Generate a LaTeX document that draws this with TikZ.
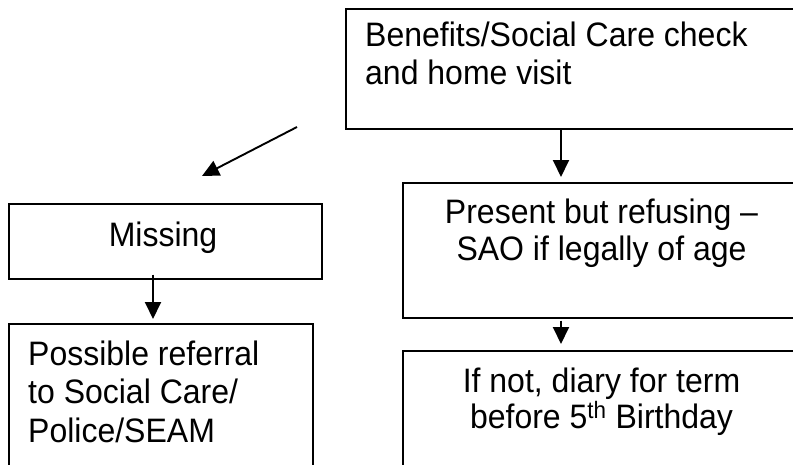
\documentclass[tikz,border=0pt]{standalone}
\usepackage{fontspec}
\setmainfont{Liberation Sans}
\usetikzlibrary{arrows.meta}
\newcommand\talltext[1]{\scalebox{1}[1.06]{#1}}
\begin{document}
\begin{tikzpicture}[x=1pt,y=-1pt,
  box/.style={draw, line width=1.6pt, rectangle, anchor=north west, inner sep=0pt},
  txt/.style={font=\fontsize{32pt}{37pt}\selectfont, inner sep=0pt},
  arr/.style={line width=1.9pt, -{Triangle[length=17pt,width=16pt]}}]
\useasboundingbox (0,0) rectangle (793,464);
\clip (0,0) rectangle (793,464);
% boxes
\node[box, minimum width=470pt, minimum height=120pt] (top) at (345,8) {};
\node[box, minimum width=313pt, minimum height=75pt] (miss) at (8,203) {};
\node[box, minimum width=304pt, minimum height=170pt] (poss) at (8,323) {};
\node[box, minimum width=410pt, minimum height=135pt] (pres) at (402,182) {};
\node[box, minimum width=410pt, minimum height=140pt] (ifnot) at (402,350) {};
% texts
\node[txt, anchor=base west] (t1a) at (365,46) {\talltext{Benefits/Social Care check}};
\node[txt, anchor=base west] (t1b) at (365,84.5) {\talltext{and home visit}};
\node[txt, anchor=base] (t2) at (163,246.5) {\talltext{Missing}};
\node[txt, anchor=base west] (t3a) at (28,365.5) {\talltext{Possible referral}};
\node[txt, anchor=base west] (t3b) at (28,403.5) {\talltext{to Social Care/}};
\node[txt, anchor=base west] (t3c) at (28,442) {\talltext{Police/SEAM}};
\node[txt, anchor=base] (t4a) at (601.5,223.5) {\talltext{Present but refusing –}};
\node[txt, anchor=base] (t4b) at (601.5,260.5) {\talltext{SAO if legally of age}};
\node[txt, anchor=base] (t5a) at (601.5,392) {\talltext{If not, diary for term}};
\node[txt, anchor=base] (t5b) at (601.5,428.5) {\talltext{before 5\textsuperscript{th} Birthday}};
% connectors
\coordinate (cx) at (561,0);
\coordinate (cm) at (153,0);
\coordinate (da) at (297,127);
\coordinate (db) at (202,176);
\draw[arr, shorten >=5pt] (top.south -| cx) -- (pres.north -| cx);
\draw[arr, shorten >=6pt, shorten <=2pt] (pres.south -| cx) -- (ifnot.north -| cx);
\draw[arr, shorten >=4pt, shorten <=-5pt] (miss.south -| cm) -- (poss.north -| cm);
\draw[arr] (da) -- (db);
\end{tikzpicture}
\end{document}
